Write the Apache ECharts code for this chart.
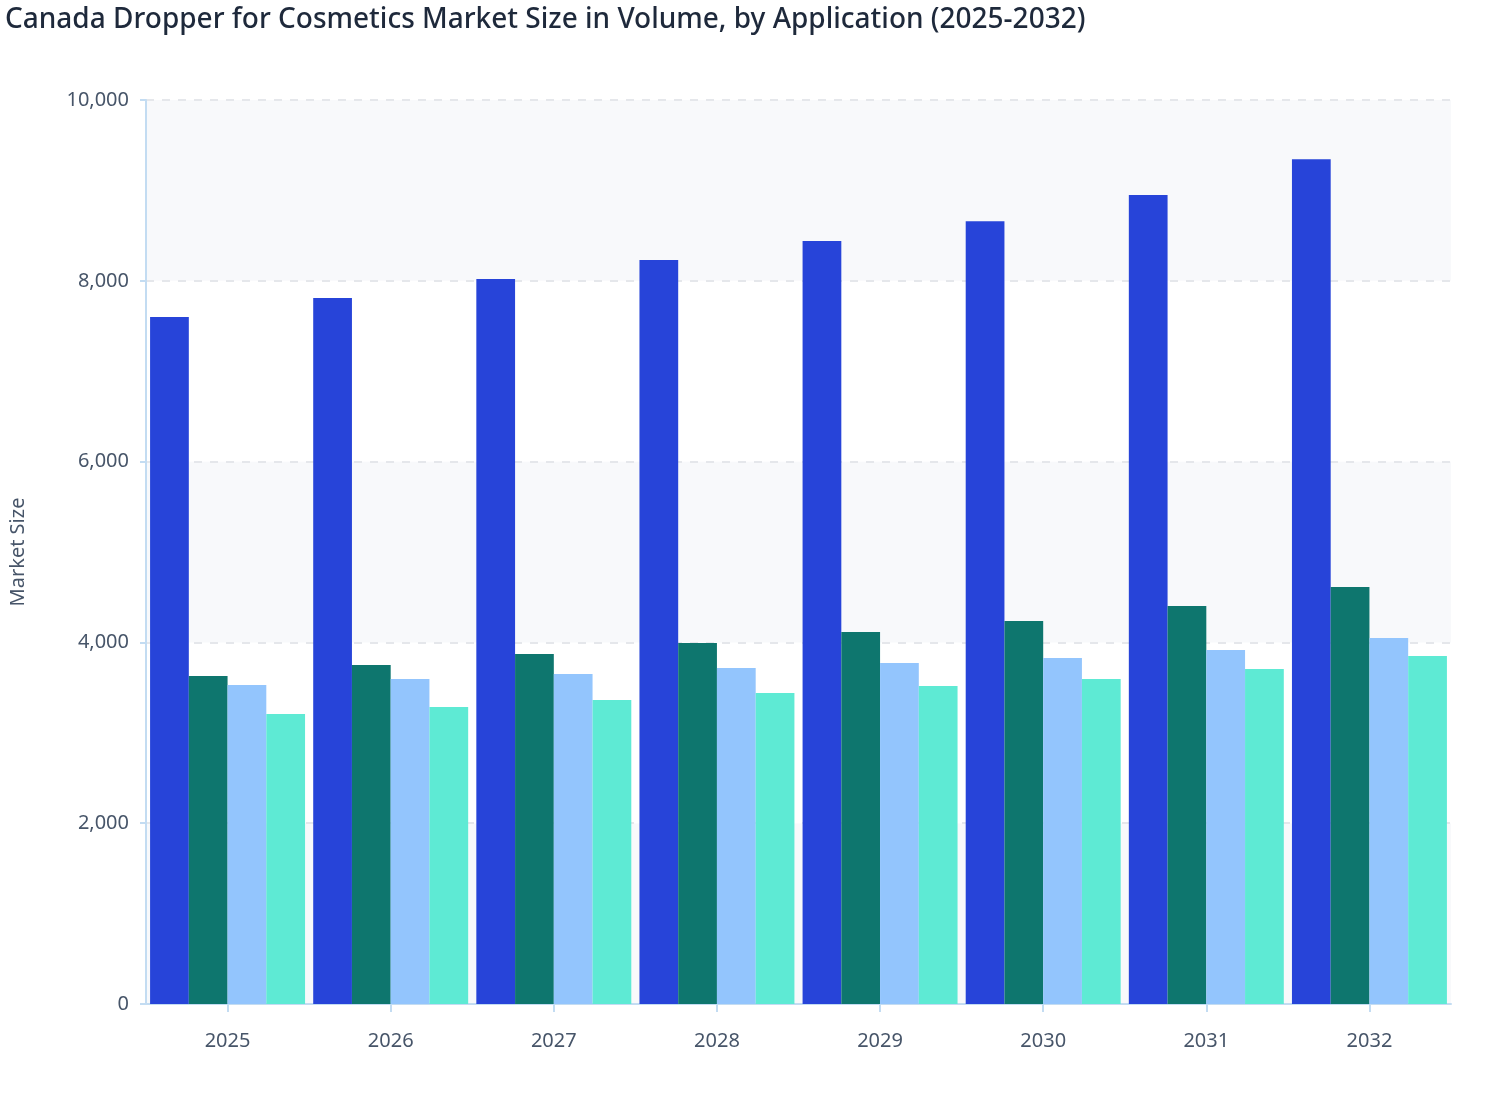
<!DOCTYPE html>
<html><head><meta charset="utf-8">
<script src="https://cdn.jsdelivr.net/npm/echarts@6/dist/echarts.min.js"></script>
<style>html,body{margin:0;padding:0;background:#fff}#c{width:1508px;height:1120px}</style>
</head><body><div id="c"></div>
<script>
const categories = ['2025','2026','2027','2028','2029','2030','2031','2032'];
const seriesNames = ['Application A','Application B','Application C','Application D'];
const seriesA = [7600, 7810, 8020, 8230, 8440, 8660, 8950, 9345];
const seriesB = [3628, 3750, 3872, 3993, 4115, 4237, 4403, 4613];
const seriesC = [3529, 3595, 3650, 3717, 3772, 3827, 3916, 4049];
const seriesD = [3208, 3285, 3363, 3440, 3518, 3595, 3706, 3850];
const yTicks = {min: 0, max: 10000, interval: 2000};
const colors = ['#2744d9', '#0e766e', '#93c5fd', '#5eead4'];

const chart = echarts.init(document.getElementById('c'));
const values = [seriesA, seriesB, seriesC, seriesD];
chart.setOption({
  animation: false,
  title: {
    text: 'Canada Dropper for Cosmetics Market Size in Volume, by Application (2025-2032)',
    left: 0, top: 1,
    textStyle: {fontFamily: 'Noto Sans', fontSize: 28, fontWeight: 500, color: '#1e293b'}
  },
  grid: {left: 145, right: 57, top: 100, bottom: 116, containLabel: false},
  xAxis: {
    type: 'category', data: categories,
    axisLine: {lineStyle: {color: '#c3dcf2', width: 2}},
    axisTick: {show: true, alignWithLabel: true, length: 8, lineStyle: {color: '#c3dcf2', width: 2}},
    axisLabel: {fontFamily: 'Noto Sans', fontSize: 20, color: '#475569', margin: 27}
  },
  yAxis: {
    type: 'value', min: yTicks.min, max: yTicks.max, interval: yTicks.interval,
    name: 'Market Size', nameLocation: 'middle', nameGap: 118, nameRotate: 90,
    nameTextStyle: {fontFamily: 'Noto Sans', fontSize: 20, color: '#475569'},
    axisLine: {show: true, lineStyle: {color: '#c3dcf2', width: 2}},
    axisTick: {show: true, length: 6, lineStyle: {color: '#c3dcf2', width: 2}},
    axisLabel: {fontFamily: 'Noto Sans', fontSize: 20, color: '#475569', margin: 17,
      formatter: v => v.toLocaleString('en-US')},
    splitLine: {show: true, lineStyle: {color: '#e5e7eb', type: [8, 8], width: 2}},
    splitArea: {show: true, areaStyle: {color: ['#f8f9fb', '#ffffff']}}
  },
  series: values.map((d, i) => ({
    name: seriesNames[i], type: 'bar', data: d,
    barGap: '0%', barCategoryGap: '5%',
    itemStyle: {color: colors[i]}
  }))
});
</script></body></html>
